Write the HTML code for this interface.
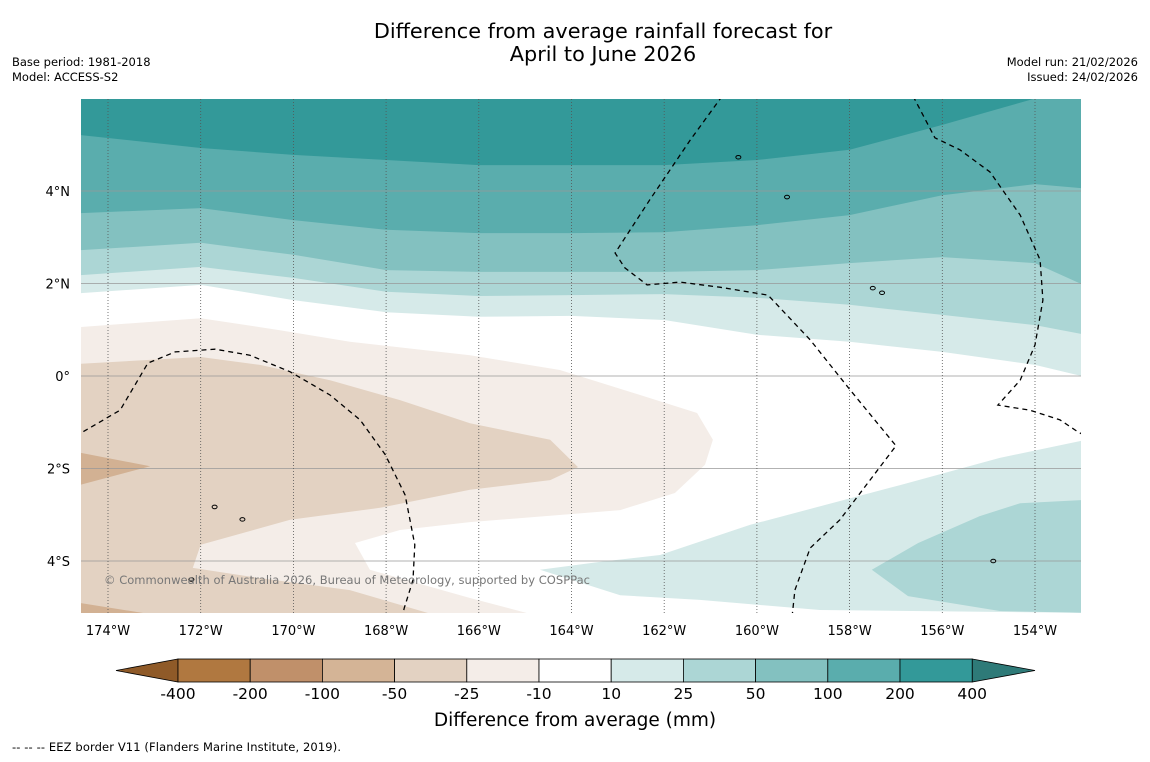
<!DOCTYPE html>
<html><head><meta charset="utf-8"><style>
body{margin:0;background:#fff;width:1150px;height:758px;overflow:hidden;font-family:"DejaVu Sans",sans-serif}
</style></head><body>
<svg id="c" width="1150" height="758" xmlns="http://www.w3.org/2000/svg" font-family="DejaVu Sans, sans-serif">
<text x="603" y="38" font-size="20.8" text-anchor="middle">Difference from average rainfall forecast for</text>
<text x="603" y="61" font-size="20.8" text-anchor="middle">April to June 2026</text>
<text x="12" y="66" font-size="11.5">Base period: 1981-2018</text>
<text x="12" y="81" font-size="11.5">Model: ACCESS-S2</text>
<text x="1138" y="66" font-size="11.5" text-anchor="end">Model run: 21/02/2026</text>
<text x="1138" y="81" font-size="11.5" text-anchor="end">Issued: 24/02/2026</text>
<defs><clipPath id="mc"><rect x="81" y="99" width="1000" height="514"/></clipPath></defs>
<g id="map" clip-path="url(#mc)"></g>
<g id="axes"></g>
<g id="cbar"></g>
<text x="575" y="726" font-size="18.5" text-anchor="middle">Difference from average (mm)</text>
<text x="12" y="751" font-size="11.5" textLength="329">--  --  -- EEZ border V11 (Flanders Marine Institute, 2019).</text>
</svg>
<script>
const lonTicks=[-174,-172,-170,-168,-166,-164,-162,-160,-158,-156,-154];
const latTicks=[4,2,0,-2,-4];
const gridLons=[-174.6,-172,-170,-168,-166,-164,-162,-160,-158,-156,-154,-153];
const band10=[1.79,1.97,1.64,1.38,1.28,1.30,1.21,0.89,0.74,0.52,0.24,0.0];
const band25=[2.18,2.36,2.12,1.82,1.73,1.75,1.77,1.69,1.54,1.32,1.10,0.91];
const band50=[2.72,2.88,2.62,2.29,2.25,2.25,2.25,2.29,2.44,2.57,2.44,1.99];
const band100=[3.52,3.63,3.37,3.16,3.09,3.09,3.11,3.26,3.48,3.91,4.15,4.06];
const band200=[5.21,4.93,4.78,4.67,4.56,4.56,4.56,4.67,4.89,5.43,6.0,6.0];
const negA10=[[-174.58,1.06],[-172,1.25],[-170.29,0.99],[-168.78,0.74],[-166.19,0.45],[-164.25,0.13],[-162.52,-0.41],[-161.29,-0.8],[-160.95,-1.38],[-161.12,-1.92],[-161.77,-2.53],[-162.95,-2.9],[-166.19,-3.16],[-167.7,-3.33],[-168.67,-3.61],[-168.35,-4.19],[-166.19,-4.8],[-164.68,-5.2],[-174.7,-5.2]];
const negA25=[[-174.7,0.26],[-172,0.41],[-170.72,0.24],[-169.21,-0.09],[-167.7,-0.52],[-166.19,-1.02],[-164.46,-1.38],[-163.86,-1.97],[-164.46,-2.25],[-166.19,-2.46],[-168.13,-2.85],[-170.07,-3.11],[-172,-3.65],[-172.17,-4.15],[-170.72,-4.37],[-168.78,-4.63],[-166.84,-5.2],[-174.7,-5.2]];
const negA50a=[[-174.7,-1.64],[-173.09,-1.95],[-174.7,-2.38]];
const negA50b=[[-174.7,-4.89],[-172.77,-5.2],[-174.7,-5.2]];
const pos10SE=[[-164.68,-4.19],[-163.39,-4.02],[-162.09,-3.87],[-160.15,-3.22],[-156.91,-2.36],[-154.76,-1.77],[-152.9,-1.38],[-152.9,-5.12],[-158.64,-5.06],[-161.23,-4.84],[-162.95,-4.74]];
const pos25SE=[[-157.52,-4.19],[-156.52,-3.61],[-155.19,-3.03],[-154.32,-2.75],[-152.9,-2.68],[-152.9,-5.12],[-154.76,-5.08],[-156.74,-4.76]];
const eez1=[[-174.7,-1.3],[-173.74,-0.74],[-173.14,0.28],[-172.55,0.52],[-171.69,0.58],[-170.94,0.45],[-170.07,0.09],[-169.21,-0.41],[-168.56,-0.95],[-168.02,-1.7],[-167.59,-2.57],[-167.38,-3.65],[-167.42,-4.41],[-167.61,-5.02],[-167.65,-5.2]];
const eez2=[[-160.75,6.05],[-161.44,5.1],[-162.31,3.81],[-163.06,2.66],[-162.85,2.34],[-162.37,1.97],[-161.66,2.03],[-160.8,1.92],[-159.76,1.75],[-158.85,0.78],[-157.99,-0.3],[-157.0,-1.51],[-157.56,-2.25],[-158.21,-3.11],[-158.85,-3.72],[-159.18,-4.63],[-159.24,-5.2]];
const eez3=[[-156.63,6.05],[-156.16,5.15],[-155.62,4.89],[-154.97,4.41],[-154.32,3.48],[-153.89,2.51],[-153.83,1.64],[-154.0,0.67],[-154.32,-0.09],[-154.8,-0.63],[-154.11,-0.74],[-153.46,-0.95],[-153.07,-1.21],[-152.9,-1.3]];
const islands=[[-159.35,3.87],[-157.5,1.9],[-157.3,1.8],[-171.7,-2.83],[-171.1,-3.1],[-172.2,-4.4],[-154.9,-4.0],[-160.4,4.73]];
const cbLabels=['-400','-200','-100','-50','-25','-10','10','25','50','100','200','400'];
const cbColors=['#b07840','#c0906a','#d4b496','#e3d2c2','#f4ede8','#ffffff','#d6eae9','#acd6d5','#83c1c0','#5aadad','#339999'];

const NS='http://www.w3.org/2000/svg';
const X=lon=>108+(lon+174)*46.35;
const Y=lat=>376-lat*46.25;
function mk(t,a,p){const e=document.createElementNS(NS,t);for(const k in a)e.setAttribute(k,a[k]);p.appendChild(e);return e;}
const map=document.getElementById('map'),axes=document.getElementById('axes'),cb=document.getElementById('cbar');
function poly(pts,fill,name){const e=mk('polygon',{points:pts.map(p=>X(p[0]).toFixed(1)+','+Y(p[1]).toFixed(1)).join(' '),fill:fill},map);

}
function topBand(vals,fill,name){const pts=[[-174.7,6.2]];gridLons.forEach((l,i)=>pts.push([l,vals[i]]));pts.push([-152.9,vals[vals.length-1]]);pts.push([-152.9,6.2]);poly(pts,fill,name);}
mk('rect',{x:81,y:99,width:1000,height:514,fill:'#fff'},map);
topBand(band10,'#d6eae9','band-10-25');
topBand(band25,'#acd6d5','band-25-50');
topBand(band50,'#83c1c0','band-50-100');
topBand(band100,'#5aadad','band-100-200');
topBand(band200,'#339999','band-200-400');
poly(negA10,'#f4ede8','band-neg10-neg25');
poly(negA25,'#e3d2c2','band-neg25-neg50');
poly(negA50a,'#d2b193','band-neg50-west');
poly(negA50b,'#d2b193','band-neg50-south');
poly(pos10SE,'#d6eae9','band-10-25-southeast');
poly(pos25SE,'#acd6d5','band-25-50-southeast');
latTicks.forEach(l=>{const e=mk('line',{x1:81,x2:1081,y1:Y(l),y2:Y(l),stroke:'#999','stroke-width':0.8},map);

});
lonTicks.forEach(l=>{const e=mk('line',{x1:X(l),x2:X(l),y1:99,y2:613,stroke:'#555','stroke-width':0.8,'stroke-dasharray':'1,2'},map);

});
[eez1,eez2,eez3].forEach(a=>{const e=mk('polyline',{points:a.map(p=>X(p[0]).toFixed(1)+','+Y(p[1]).toFixed(1)).join(' '),fill:'none',stroke:'#000','stroke-width':1.3,'stroke-dasharray':'5,4'},map);

});
islands.forEach(p=>{const e=mk('ellipse',{cx:X(p[0]),cy:Y(p[1]),rx:2.5,ry:1.8,fill:'none',stroke:'#000','stroke-width':1},map);

});
const cp=mk('text',{x:104,y:584,'font-size':11.5,fill:'#777',textLength:486},map);cp.textContent='© Commonwealth of Australia 2026, Bureau of Meteorology, supported by COSPPac';


latTicks.forEach(l=>{const t=mk('text',{x:70,y:Y(l)+5,'font-size':13,'text-anchor':'end'},axes);t.textContent=l===0?'0°':Math.abs(l)+'°'+(l>0?'N':'S');

});
lonTicks.forEach(l=>{const t=mk('text',{x:X(l),y:635,'font-size':13,'text-anchor':'middle'},axes);t.textContent=Math.abs(l)+'°W';

});
const cx0=178,cw=72.2,cy=659,ch=23;
const lt=mk('polygon',{points:`116,670.5 ${cx0},${cy} ${cx0},${cy+ch}`,fill:'#8f5a28',stroke:'#000','stroke-width':0.8},cb);


const rEnd=cx0+cw*cbColors.length;
const rt=mk('polygon',{points:`${rEnd},${cy} 1035,670.5 ${rEnd},${cy+ch}`,fill:'#2e7a78',stroke:'#000','stroke-width':0.8},cb);


cbColors.forEach((c,i)=>{const r=mk('rect',{x:cx0+i*cw,y:cy,width:cw,height:ch,fill:c,stroke:'#000','stroke-width':0.8},cb);

});
cbLabels.forEach((s,i)=>{const t=mk('text',{x:cx0+i*cw,y:699,'font-size':15.5,'text-anchor':'middle'},cb);t.textContent=s;

});
</script>
</body></html>
